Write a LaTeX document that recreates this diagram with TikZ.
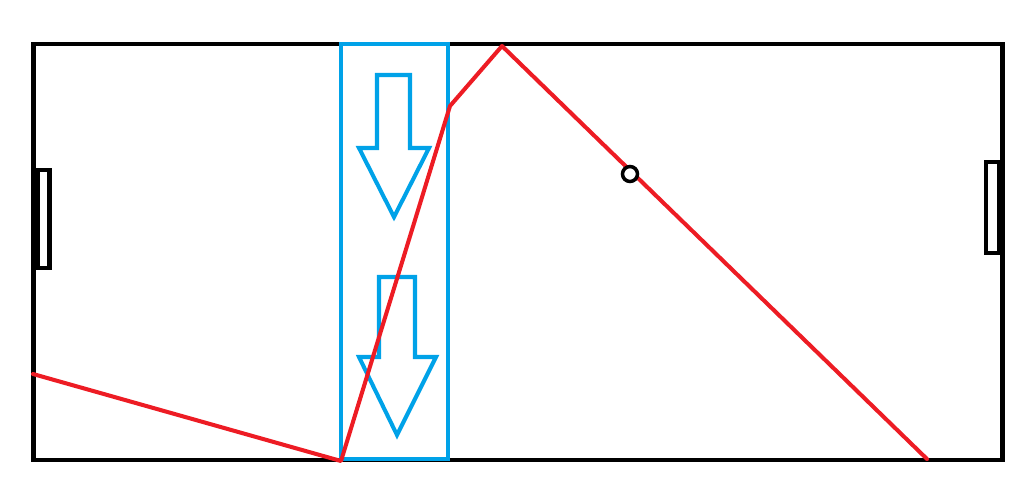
\documentclass[tikz,border=0pt]{standalone}
\usepackage{tikz}
\usepackage{xcolor}
\definecolor{pitchline}{RGB}{0, 0, 0}
\definecolor{zone}{RGB}{0, 162, 232}
\definecolor{route}{RGB}{237, 28, 36}

\begin{document}
\begin{tikzpicture}[
    x=0.02cm, y=-0.02cm,
    pitch/.style={
        draw=pitchline,
        line width=2.8pt
    },
    goalbox/.style={
        draw=pitchline,
        line width=2.6pt
    },
    zonebox/.style={
        draw=zone,
        line width=2.3pt
    },
    pusharrow/.style={
        draw=zone,
        line width=2.3pt,
        line join=miter
    },
    routeline/.style={
        draw=route,
        line width=2.3pt,
        line join=round,
        line cap=round
    },
    ballmark/.style={
        draw=pitchline,
        line width=2pt,
        fill=white
    }
]
\useasboundingbox (0,0) rectangle (1036,498);

% === Pitch ===
\draw[pitch] (33.5,44) rectangle (1002.5,460);
\draw[goalbox] (37.5,170) rectangle (49.5,268);
\draw[goalbox] (986,162) rectangle (999,253);

% === Pressing zone ===
\draw[zonebox] (341,44) rectangle (448,459);
\draw[pusharrow] (377,75) -- (410,75) -- (410,148) -- (429,148) -- (394,217)
    -- (359,148) -- (377,148) -- cycle;
\draw[pusharrow] (379,277) -- (415,277) -- (415,357) -- (436,357) -- (397,435)
    -- (359,357) -- (379,357) -- cycle;

% === Ball route ===
\coordinate (start) at (33,374);
\coordinate (low) at (341,461);
\coordinate (bend) at (450,106);
\coordinate (peak) at (502,46);
\coordinate (finish) at (927,459);
\draw[routeline] (start) -- (low) -- (bend) -- (peak) -- (finish);

% === Ball ===
\node[ballmark, circle, minimum size=0.3cm, inner sep=0pt] (ball) at (630,174) {};

\end{tikzpicture}
\end{document}
